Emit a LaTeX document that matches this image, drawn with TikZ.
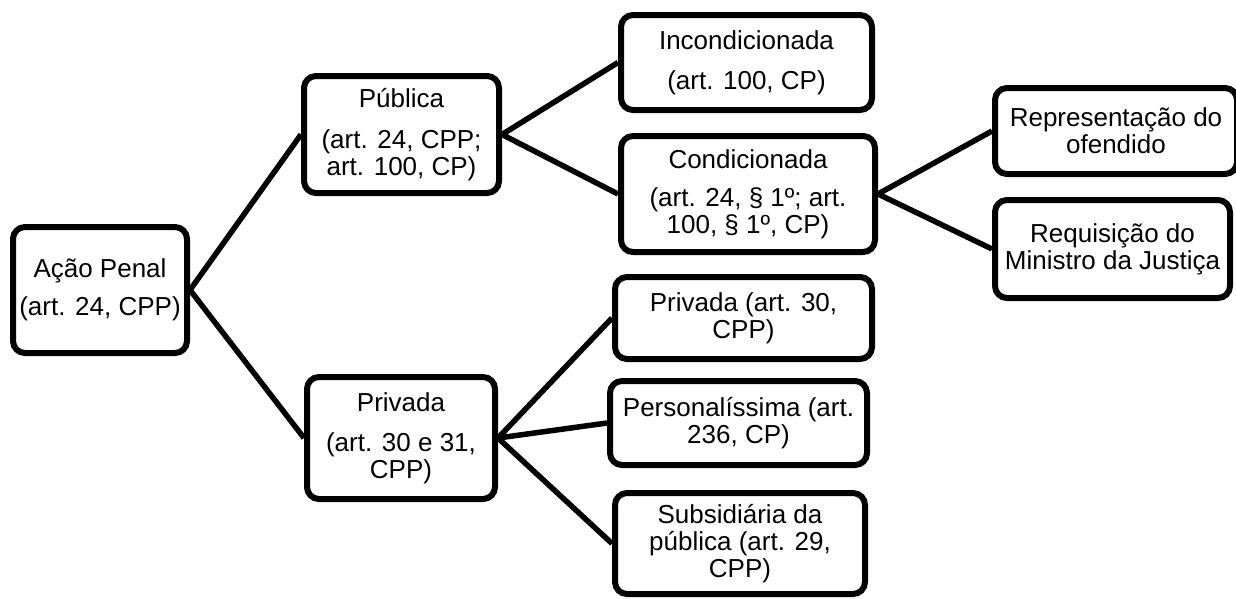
\documentclass[tikz,border=0pt]{standalone}
\usepackage{fontspec}
\setmainfont{Liberation Sans}
\begin{document}
\begin{tikzpicture}[x=1pt,y=-1pt,
  box/.style={draw=black, line width=6pt, rounded corners=12pt, fill=white,
    inner sep=0pt, align=center, font=\fontsize{26}{27}\selectfont},
  link/.style={draw=black, line width=5.5pt}]
\clip (0,0) rectangle (1236,598);
\fill[white] (0,0) rectangle (1236,598);
\node[box, minimum width=174pt, minimum height=126pt] (ap) at (100,290) {Ação Penal\\[11pt](art. 24, CPP)};
\node[box, minimum width=195pt, minimum height=117pt] (pub) at (401.5,134.5) {Pública\\[14pt](art. 24, CPP;\\art. 100, CP)};
\node[box, minimum width=188pt, minimum height=122pt] (priv) at (401,438) {Privada\\[13pt](art. 30 e 31,\\CPP)};
\node[box, minimum width=251pt, minimum height=95pt] (inc) at (746.5,62.5) {Incondicionada\\[13pt](art. 100, CP)};
\node[box, minimum width=254pt, minimum height=116pt] (cond) at (748,194) {Condicionada\\[11pt](art. 24, § 1º; art.\\100, § 1º, CP)};
\node[box, minimum width=242pt, minimum height=86pt] (rep) at (1116,131) {Representação do\\ofendido};
\node[box, minimum width=235pt, minimum height=98pt] (req) at (1112.5,249) {Requisição do\\Ministro da Justiça};
\node[box, minimum width=257pt, minimum height=82pt] (p30) at (743.5,318) {Privada (art. 30,\\CPP)};
\node[box, minimum width=257pt, minimum height=84pt] (pers) at (738.5,423) {Personalíssima (art.\\236, CP)};
\node[box, minimum width=250pt, minimum height=101pt] (sub) at (740,543.5) {Subsidiária da\\pública (art. 29,\\CPP)};
\draw[link] (ap.east) -- (pub.west);
\draw[link] (ap.east) -- (priv.west);
\draw[link] (pub.east) -- (inc.west);
\draw[link] (pub.east) -- (cond.west);
\draw[link] (cond.east) -- (rep.west);
\draw[link] (cond.east) -- (req.west);
\draw[link] (priv.east) -- (p30.west);
\draw[link] (priv.east) -- (pers.west);
\draw[link] (priv.east) -- (sub.west);
\end{tikzpicture}
\end{document}
